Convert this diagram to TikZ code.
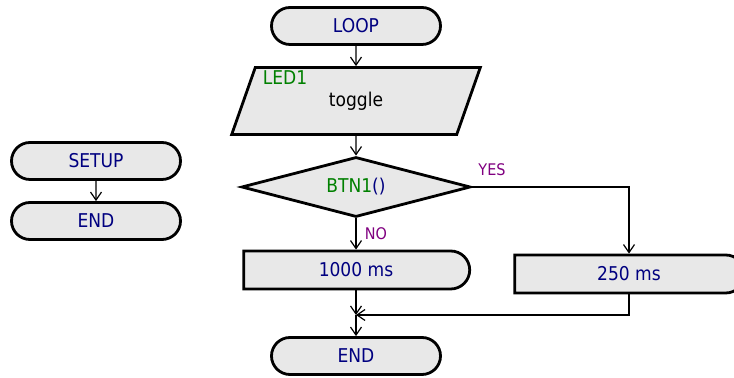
\documentclass[tikz,border=0pt]{standalone}
\usepackage{fontspec}
\setmainfont{DejaVu Sans Condensed}
\usetikzlibrary{arrows.meta, shapes.geometric, shapes.misc}
\definecolor{navytxt}{RGB}{0,0,128}
\definecolor{greentxt}{RGB}{0,128,0}
\definecolor{purptxt}{RGB}{128,0,128}
\definecolor{boxfill}{RGB}{232,232,232}
\tikzset{
  term/.style   ={draw, rounded rectangle, minimum width=84.5pt,
                  minimum height=18.5pt, inner sep=0pt, fill=boxfill,
                  line width=1.4pt, text=navytxt, font=\fontsize{9.5}{11}\selectfont},
  delay/.style  ={term, rounded rectangle west arc=none,
                  minimum width=113pt, minimum height=19pt},
  io/.style     ={draw, trapezium, trapezium left angle=71,
                  trapezium right angle=109, trapezium stretches=true,
                  minimum width=124.5pt, minimum height=33.5pt, inner sep=0pt,
                  fill=boxfill, line width=1.4pt,
                  font=\fontsize{9.5}{11}\selectfont},
  cond/.style   ={draw, diamond, aspect=3.8, minimum width=114.5pt,
                  minimum height=30pt, inner sep=0pt, fill=boxfill,
                  line width=1.4pt, font=\fontsize{9.5}{11}\selectfont},
  flow/.style   ={-{Straight Barb[length=4pt, width=5.5pt]}, line width=0.6pt},
  lbl/.style    ={text=purptxt, font=\fontsize{8}{9}\selectfont, inner sep=0pt},
}
\begin{document}
\begin{tikzpicture}[x=0.5pt, y=-0.5pt]
  \useasboundingbox (0,0) rectangle (734,378);
  % setup branch
  \node[term] (setup) at (96,161) {SETUP};
  \node[term] (setupend) at (96,221) {END};
  \draw[flow] (setup) -- (setupend);
  % loop branch
  \node[term] (loop) at (356,26) {LOOP};
  \node[io] (led) at (356,101) {toggle};
  \node[text=greentxt, inner sep=0pt, font=\fontsize{9.5}{11}\selectfont]
    (ledname) at (285,78) {LED1};
  \node[cond] (btn) at (356,187)
    {\textcolor{greentxt}{BTN1}\textcolor{navytxt}{()}};
  \node[delay] (slow) at (356,270) {1000 ms};
  \node[delay, minimum width=115pt] (fast) at (629,274) {250 ms};
  \node[term] (loopend) at (356,356) {END};
  \coordinate (merge) at (356,315);
  \draw[flow] (loop) -- (led);
  \draw[flow] (led) -- (btn);
  \draw[flow] (btn.south) -- (slow.north);
  \draw[flow] (btn.east) -| (fast.north);
  \draw[flow] (slow.south) -- (merge);
  \draw[flow] (fast.south) |- (merge);
  \draw[flow] (merge) -- (loopend.north);
  \node[lbl] (yes) at (492,170) {YES};
  \node[lbl] (no) at (376,234) {NO};
\end{tikzpicture}
\end{document}
